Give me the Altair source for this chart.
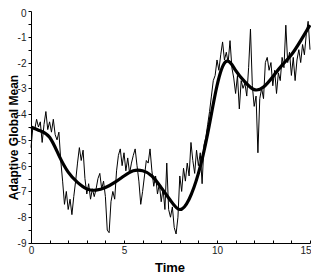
import altair as alt
import pandas as pd

# ---- data ----
time_noisy = [round(i * 0.1, 1) for i in range(151)]
noisy = [
    -5.3, -4.5, -4.6, -4.2, -4.5, -4.3, -5.1, -4.4, -3.9, -4.6,
    -4.3, -4.7, -4.2, -4.8, -5.0, -4.7, -5.8, -6.6, -7.5, -7.0,
    -7.7, -7.3, -7.9, -7.2, -6.6, -5.9, -5.3, -5.8, -5.4, -6.5,
    -7.1, -6.7, -7.3, -6.9, -7.2, -6.9, -6.5, -6.3, -6.9, -6.6,
    -7.2, -8.5, -8.6, -7.4, -7.0, -7.3, -6.2, -5.6, -5.35, -6.0,
    -5.5, -6.2, -5.7, -6.3, -5.9, -5.6, -5.35, -6.0, -6.6, -7.5,
    -7.0, -6.4, -5.8, -5.9, -5.35, -6.2, -6.8, -6.4, -7.1, -6.7,
    -7.4, -6.9, -7.7, -5.9, -7.7, -8.0, -7.6, -8.4, -8.65, -8.0,
    -6.4, -7.0, -6.1, -6.6, -5.9, -6.4, -5.1, -5.8, -6.3, -5.4,
    -6.0, -5.5, -6.7, -5.2, -4.9, -4.4, -3.9, -3.3, -2.7, -2.5,
    -1.9, -2.3, -1.7, -1.2, -1.9, -1.6, -2.0, -1.15, -2.2, -2.6,
    -3.2, -2.5, -3.8, -2.7, -3.0, -2.8, -3.3, -2.2, -0.7, -2.9,
    -3.7, -3.3, -5.5, -3.4, -3.0, -3.4, -2.0, -1.8, -2.3, -2.0,
    -2.9, -2.3, -3.2, -2.4, -2.7, -1.8, -2.2, -0.55, -2.0, -1.6,
    -2.5, -1.8, -2.7, -1.9, -1.5, -2.0, -1.3, -1.7, -0.9, -0.4,
    -1.5,
]
time_smooth = [round(i * 0.5, 1) for i in range(31)]
smooth = [
    -4.5, -4.65, -4.9, -5.6, -6.25, -6.65, -6.9, -6.95, -6.85, -6.65,
    -6.4, -6.2, -6.2, -6.4, -6.85, -7.35, -7.7, -7.3, -6.3, -4.75,
    -2.9, -1.95, -2.3, -2.75, -3.05, -2.95, -2.55, -2.1, -1.7, -1.15,
    -0.55,
]
x_ticks = list(range(0, 16))
y_ticks = [-9 + 0.5 * i for i in range(19)]

df_n = pd.DataFrame({"Time": time_noisy, "Mean": noisy})
df_s = pd.DataFrame({"Time": time_smooth, "Mean": smooth})

FONT = "Liberation Sans, Arial, sans-serif"
W, H = 279, 232

xscale = alt.Scale(domain=[0, 15], nice=False, zero=False)
yscale = alt.Scale(domain=[-9, 0], nice=False, zero=False)

x_axis = alt.Axis(
    values=x_ticks,
    labelExpr="datum.value % 5 == 0 ? '' + datum.value : ''",
    ticks=False, grid=False, domainColor="black", domainWidth=1,
    labelFont=FONT, labelFontSize=10, labelColor="#222",
    labelPadding=2, labelFlush=False, labelOverlap=False,
    labelAlign=alt.condition("datum.value == 15", alt.value("right"), alt.value("center")),
    labelOffset=alt.condition("datum.value == 15", alt.value(1), alt.value(0)),
    title="Time",
    titleFont="Liberation Sans Narrow, Arial Narrow, Liberation Sans, sans-serif",
    titleFontSize=13, titleFontWeight="bold", titleColor="black",
    titleX=138.5, titleY=28, titleAlign="center", titleBaseline="alphabetic",
)
x_axis_ticks = alt.Axis(
    orient="top", offset=-H, values=x_ticks, domain=False, labels=False,
    ticks=True, tickSize=3, tickColor="black", grid=False, title=None,
)
y_axis = alt.Axis(
    values=y_ticks,
    labelExpr="datum.value % 1 == 0 ? '' + datum.value : ''",
    ticks=True, tickSize=3, tickColor="black", grid=False,
    domainColor="black", domainWidth=1,
    labelFont=FONT, labelFontSize=10, labelColor="#222",
    labelPadding=2, labelFlush=False, labelOverlap=False,
    labelOffset=alt.condition("datum.value == 0", alt.value(2), alt.value(0.5)),
    title="Adaptive Global Mean", titleFont=FONT, titleFontSize=12,
    titleFontWeight="bold", titleColor="black", titleAngle=270,
    titleX=-14, titleY=126, titleAlign="center", titleBaseline="alphabetic",
)

noisy_line = alt.Chart(df_n).mark_line(color="black", strokeWidth=1).encode(
    x=alt.X("Time:Q", scale=xscale, axis=x_axis),
    y=alt.Y("Mean:Q", scale=yscale, axis=y_axis),
)
smooth_line = alt.Chart(df_s).mark_line(
    color="black", strokeWidth=3.2, interpolate="natural"
).encode(
    x=alt.X("Time:Q", scale=xscale, axis=x_axis_ticks),
    y=alt.Y("Mean:Q", scale=yscale, axis=None),
)

chart = (
    alt.layer(noisy_line, smooth_line)
    .resolve_axis(x="independent", y="independent")
    .properties(
        width=W, height=H,
        padding={"left": 23, "top": 3, "right": 1, "bottom": 31},
        autosize=alt.AutoSizeParams(type="none"),
        background="white",
    )
    .configure_view(stroke=None)
)

chart.save("out.html", embed_options={"renderer": "svg", "actions": False})
